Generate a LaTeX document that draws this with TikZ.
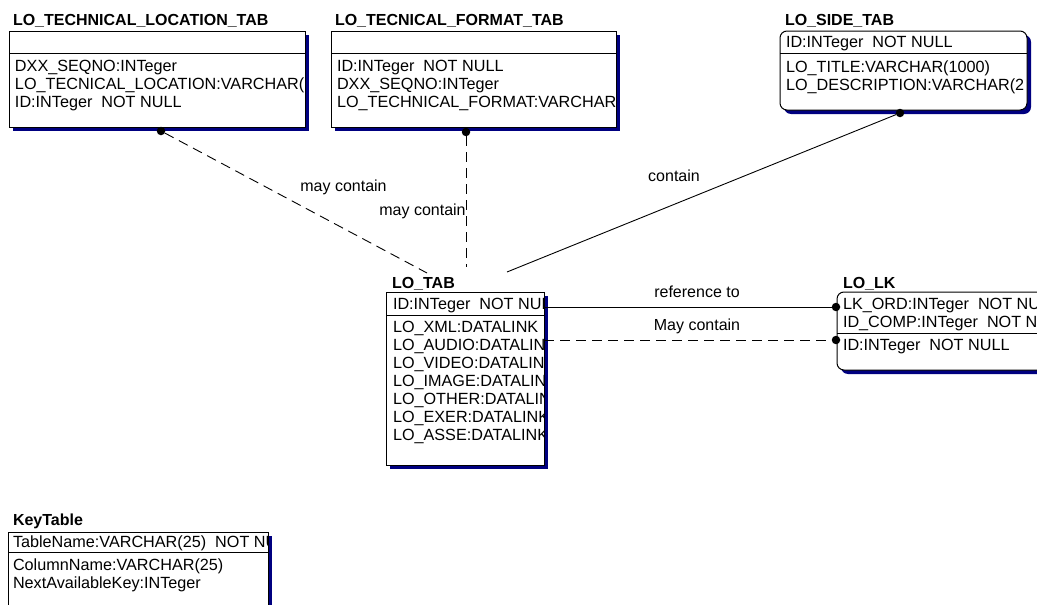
\documentclass[tikz,border=0pt]{standalone}
\usepackage{fontspec}
\setmainfont{Liberation Sans}
\usetikzlibrary{shadows}
\definecolor{shade}{RGB}{0,0,128}
\begin{document}
\begin{tikzpicture}[x=1pt,y=-1pt,
  every node/.style={inner sep=0pt, outer sep=0pt},
  tbl/.style={draw, line width=1pt, fill=white, anchor=north west,
    drop shadow={shadow xshift=4pt, shadow yshift=-4pt, fill=shade, opacity=1}},
  rtbl/.style={tbl, rounded corners=7pt},
  title/.style={anchor=base west, font=\fontsize{16}{18}\selectfont\bfseries},
  row/.style={anchor=base west, font=\fontsize{16.2}{18}\selectfont},
  lbl/.style={anchor=base, font=\fontsize{16}{18}\selectfont},
  dot/.style={circle, fill=black, minimum size=8.5pt},
  link/.style={line width=0.9pt},
  optlink/.style={link, dash pattern=on 10pt off 6pt},
  divider/.style={line width=1pt}
]
\useasboundingbox (0,0) rectangle (1037,605);
\clip (0,0) rectangle (1037,605);

% ---------- LO_TECHNICAL_LOCATION_TAB ----------
\node[title] (loctitle) at (13,25) {LO\_TECHNICAL\_LOCATION\_TAB};
\node[tbl, minimum width=296pt, minimum height=96pt] (loc) at (9,31) {};
\draw[divider] (9,53) -- (305,53);
\begin{scope}
  \clip (9,31) rectangle (304,127);
  \node[row] (loc1) at (15,71) {DXX\_SEQNO:INTeger};
  \node[row] (loc2) at (15,89) {LO\_TECNICAL\_LOCATION:VARCHAR(};
  \node[row] (loc3) at (15,107) {ID:INTeger\ \ NOT NULL};
\end{scope}

% ---------- LO_TECNICAL_FORMAT_TAB ----------
\node[title] (fmttitle) at (335,25) {LO\_TECNICAL\_FORMAT\_TAB};
\node[tbl, minimum width=285pt, minimum height=96pt] (fmt) at (331,31) {};
\draw[divider] (331,53) -- (616,53);
\begin{scope}
  \clip (331,31) rectangle (615,127);
  \node[row] (fmt1) at (337,71) {ID:INTeger\ \ NOT NULL};
  \node[row] (fmt2) at (337,89) {DXX\_SEQNO:INTeger};
  \node[row] (fmt3) at (337,107) {LO\_TECHNICAL\_FORMAT:VARCHAR};
\end{scope}

% ---------- LO_SIDE_TAB ----------
\node[title] (sidetitle) at (785,25) {LO\_SIDE\_TAB};
\node[rtbl, minimum width=247pt, minimum height=79pt] (side) at (780,31) {};
\draw[divider] (780,53) -- (1027,53);
\begin{scope}
  \clip (780,31) rectangle (1026,110);
  \node[row] (side0) at (786,47.5) {ID:INTeger\ \ NOT NULL};
  \node[row] (side1) at (786,72) {LO\_TITLE:VARCHAR(1000)};
  \node[row] (side2) at (786,90) {LO\_DESCRIPTION:VARCHAR(2};
\end{scope}

% ---------- LO_TAB ----------
\node[title] (tabtitle) at (392,288) {LO\_TAB};
\node[tbl, minimum width=158pt, minimum height=173pt] (lotab) at (386,292) {};
\draw[divider] (386,315) -- (544,315);
\begin{scope}
  \clip (386,292) rectangle (543,465);
  \node[row] (tab0) at (393,309) {ID:INTeger\ \ NOT NULL};
  \node[row] (tab1) at (393,332) {LO\_XML:DATALINK};
  \node[row] (tab2) at (393,350) {LO\_AUDIO:DATALINK};
  \node[row] (tab3) at (393,368) {LO\_VIDEO:DATALINK};
  \node[row] (tab4) at (393,386) {LO\_IMAGE:DATALINK};
  \node[row] (tab5) at (393,404) {LO\_OTHER:DATALINK};
  \node[row] (tab6) at (393,422) {LO\_EXER:DATALINK};
  \node[row] (tab7) at (393,440) {LO\_ASSE:DATALINK};
\end{scope}

% ---------- LO_LK ----------
\node[title] (lktitle) at (843,288) {LO\_LK};
\node[rtbl, minimum width=230pt, minimum height=78pt] (lolk) at (837,292) {};
\draw[divider] (837,333) -- (1067,333);
\node[row] (lk0) at (843,309) {LK\_ORD:INTeger\ \ NOT NULL};
\node[row] (lk1) at (843,327) {ID\_COMP:INTeger\ \ NOT NULL};
\node[row] (lk2) at (843,350) {ID:INTeger\ \ NOT NULL};

% ---------- KeyTable ----------
\node[title] (keytitle) at (13,525) {KeyTable};
\node[tbl, minimum width=260pt, minimum height=90pt] (keyt) at (8,532) {};
\draw[divider] (8,552) -- (268,552);
\begin{scope}
  \clip (8,532) rectangle (267,622);
  \node[row] (key0) at (13,547) {TableName:VARCHAR(25)\ \ NOT NULL};
  \node[row] (key1) at (13,570) {ColumnName:VARCHAR(25)};
  \node[row] (key2) at (13,588) {NextAvailableKey:INTeger};
\end{scope}

% ---------- relationship ends ----------
\node[dot] (locdot) at (161,131) {};
\node[dot] (fmtdot) at (466,132) {};
\node[dot] (sidedot) at (900,113) {};
\node[dot] (refdot) at (836,307) {};
\node[dot] (maydot) at (836,340) {};
\coordinate (tabin1) at (427,273);
\coordinate (tabin2) at (466,267);
\coordinate (tabin3) at (507,272);

% ---------- relationships ----------
\draw[optlink] (locdot) -- (tabin1);
\draw[optlink] (fmtdot) -- (tabin2);
\draw[link] (sidedot) -- (tabin3);
\draw[link] (lotab.east |- refdot) -- (refdot);
\draw[optlink] (lotab.east |- maydot) -- (maydot);

\node[lbl] (lab1) at (343.5,191) {may contain};
\node[lbl] (lab2) at (422.5,215) {may contain};
\node[lbl] (lab3) at (674,181) {contain};
\node[lbl] (lab4) at (697,297) {reference to};
\node[lbl] (lab5) at (697,330) {May contain};
\end{tikzpicture}
\end{document}
